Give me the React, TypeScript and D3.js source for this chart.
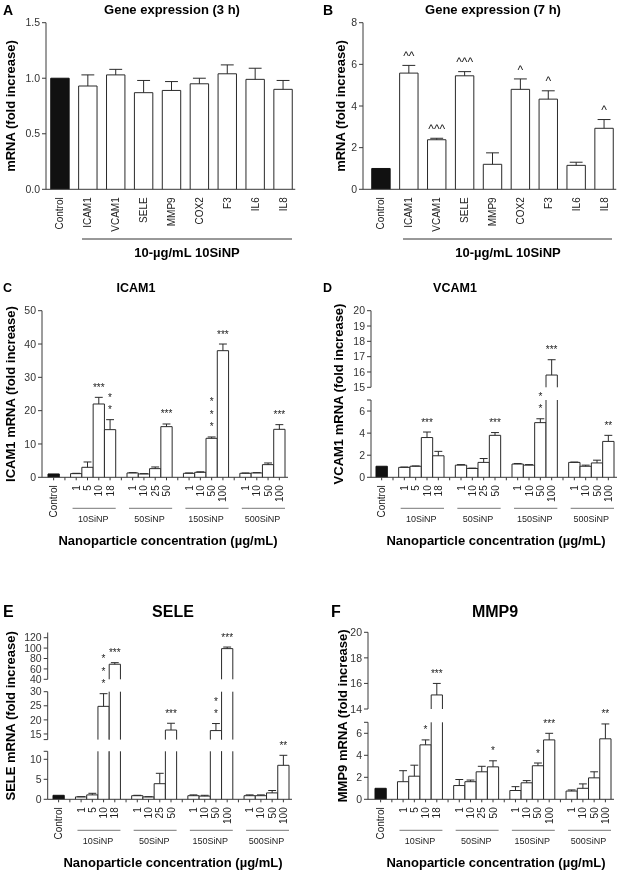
import * as React from "react"
import * as d3 from "d3"

const FONT = "'Liberation Sans', Arial, sans-serif"

// panels A and B
const GENES = ["Control", "ICAM1", "VCAM1", "SELE", "MMP9", "COX2", "F3", "IL6", "IL8"]
const H3_MEAN = [1.0, 0.93, 1.03, 0.87, 0.89, 0.95, 1.04, 0.99, 0.9]
const H3_SEM = [0, 0.1, 0.05, 0.11, 0.08, 0.05, 0.08, 0.1, 0.08]
const H7_MEAN = [1.0, 5.58, 2.38, 5.45, 1.2, 4.8, 4.33, 1.15, 2.93]
const H7_SEM = [0, 0.37, 0.07, 0.2, 0.55, 0.5, 0.4, 0.15, 0.42]
// blank lines lift a mark further above its error bar
const H7_MARKS = ["", "\n\n^^", "^^^", "\n\n^^^", "", "^", "^", "", "^"]

// panels C-F
const PARTICLES = ["10SiNP", "50SiNP", "150SiNP", "500SiNP"]
const DOSES = [
  ["1", "5", "10", "18"],
  ["1", "10", "25", "50"],
  ["1", "10", "50", "100"],
  ["1", "10", "50", "100"],
]

// order: Control, then 4 doses for each particle
const ICAM1_MEAN = [1.0, 1.1, 3.0, 22, 14.3, 1.3, 1.0, 2.6, 15.2, 1.2, 1.5, 11.7, 38, 1.2, 1.3, 3.8, 14.4]
const ICAM1_SEM = [0, 0.1, 1.6, 2, 3, 0.1, 0.1, 0.5, 0.8, 0.1, 0.15, 0.4, 2, 0.1, 0.1, 0.5, 1.4]
const ICAM1_MARKS = ["", "", "", "***", "*\n*", "", "", "", "***", "", "", "*\n*\n*", "***", "", "", "", "***"]

const VCAM1_MEAN = [1.0, 0.9, 1.0, 3.6, 1.95, 1.1, 0.8, 1.35, 3.8, 1.2, 1.1, 4.95, 15.8, 1.35, 1.0, 1.3, 3.25]
const VCAM1_SEM = [0, 0.03, 0.03, 0.5, 0.4, 0.05, 0.03, 0.35, 0.25, 0.05, 0.05, 0.35, 1.0, 0.03, 0.1, 0.25, 0.55]
const VCAM1_MARKS = ["", "", "", "***", "", "", "", "", "***", "", "", "*\n*", "***", "", "", "", "**"]

const SELE_MEAN = [1.0, 0.6, 1.1, 24.8, 69, 0.9, 0.6, 3.9, 16.4, 0.9, 0.8, 16.2, 99, 0.9, 0.9, 1.6, 8.5]
const SELE_SEM = [0, 0.05, 0.4, 4.5, 3, 0.1, 0.05, 2.6, 2.4, 0.2, 0.2, 2.5, 3, 0.2, 0.2, 0.6, 2.5]
const SELE_MARKS = ["", "", "", "*\n*\n*", "***", "", "", "", "***", "", "", "*\n*", "***", "", "", "", "**"]

const MMP9_MEAN = [1.0, 1.6, 2.1, 4.95, 15.1, 1.25, 1.6, 2.5, 2.95, 0.8, 1.5, 3.05, 5.4, 0.75, 1.0, 1.95, 5.5]
const MMP9_SEM = [0, 1.0, 1.0, 0.45, 0.9, 0.55, 0.15, 0.5, 0.55, 0.35, 0.2, 0.25, 0.6, 0.1, 0.4, 0.55, 1.35]
const MMP9_MARKS = ["", "", "", "*", "***", "", "", "", "*", "", "", "*", "***", "", "", "", "**"]

type Seg = { d: [number, number]; r: [number, number]; ticks: number[] }
type Bar = { x0: number; w: number; v: number; e: number; black: boolean; mark: string; label: string }

const AXIS = "#3a3a3a"

function YAxis({ x, segs, fmt }: { x: number; segs: Seg[]; fmt: (n: number) => string }) {
  return (
    <g>
      {segs.map((s, i) => {
        const y = d3.scaleLinear().domain(s.d).range(s.r)
        const caps: number[] = []
        if (i > 0 && !s.ticks.includes(s.d[0])) caps.push(s.d[0])
        if (i < segs.length - 1 && !s.ticks.includes(s.d[1])) caps.push(s.d[1])
        return (
          <g key={i}>
            <line x1={x} x2={x} y1={y(s.d[0])} y2={y(s.d[1])} stroke={AXIS} />
            {s.ticks.map(t => (
              <g key={t}>
                <line x1={x - 4} x2={x} y1={y(t)} y2={y(t)} stroke={AXIS} />
                <text x={x - 6} y={y(t)} dy="0.35em" textAnchor="end" fontSize={10.5} fill="#333">
                  {fmt(t)}
                </text>
              </g>
            ))}
            {caps.map(c => (
              <line key={"c" + c} x1={x - 4} x2={x} y1={y(c)} y2={y(c)} stroke={AXIS} />
            ))}
          </g>
        )
      })}
    </g>
  )
}

function Bars({ bars, segs, markSize }: { bars: Bar[]; segs: Seg[]; markSize: number }) {
  const scales = segs.map(s => ({ s, y: d3.scaleLinear().domain(s.d).range(s.r) }))
  const yOf = (v: number) => {
    const hit = scales.find(q => v <= q.s.d[1]) || scales[scales.length - 1]
    return hit.y(v)
  }
  return (
    <g>
      {bars.map((b, bi) => {
        const x1 = b.x0 + b.w
        const cx = b.x0 + b.w / 2
        const parts = scales.map((q, i) => {
          const lo = i === 0 ? 0 : q.s.d[0]
          if (b.v <= lo) return null
          const hi = Math.min(b.v, q.s.d[1])
          const yb = q.y(lo)
          const yt = q.y(hi)
          const closed = b.v <= q.s.d[1]
          const path = `M${b.x0},${yb}V${yt}` + (closed ? `H${x1}` : `M${x1},${yt}`) + `V${yb}`
          return (
            <g key={i}>
              <rect x={b.x0} y={yt} width={b.w} height={yb - yt} fill={b.black ? "#111" : "#fff"} />
              <path d={path} fill="none" stroke={b.black ? "#111" : "#2a2a2a"} strokeWidth={1} />
            </g>
          )
        })
        const yTop = yOf(b.v + b.e)
        const capW = b.w * 0.7
        const lines = b.mark ? b.mark.split("\n").reverse() : []
        return (
          <g key={bi}>
            {parts}
            {b.e > 0 && (
              <g stroke="#2a2a2a">
                <line x1={cx} x2={cx} y1={yOf(b.v)} y2={yTop} />
                <line x1={cx - capW / 2} x2={cx + capW / 2} y1={yTop} y2={yTop} />
              </g>
            )}
            {lines.map((t, i) => (
              <text key={i} x={cx} y={yTop - 12 - 12.5 * i + markSize * 0.55} textAnchor="middle" fontSize={markSize} fill="#222">
                {t}
              </text>
            ))}
          </g>
        )
      })}
    </g>
  )
}

function RotLabels({ bars, y, size }: { bars: Bar[]; y: number; size: number }) {
  return (
    <g>
      {bars.map((b, i) => (
        <text
          key={i}
          transform={`translate(${b.x0 + b.w / 2},${y}) rotate(-90)`}
          textAnchor="end"
          dy="0.35em"
          fontSize={size}
          fill="#222"
        >
          {b.label}
        </text>
      ))}
    </g>
  )
}

function YTitle({ x, y, text }: { x: number; y: number; text: string }) {
  return (
    <text transform={`translate(${x},${y}) rotate(-90)`} textAnchor="middle" dy="0.35em" fontSize={13} fontWeight="bold">
      {text}
    </text>
  )
}

type GeneLayout = {
  letter: string; lx: number; title: string; tx: number; ylx: number
  axisX: number; range: [number, number]; seg: Seg; fmt: (n: number) => string
  mean: number[]; sem: number[]; marks: string[]; subX: [number, number]; subCx: number
}

function GenePanel(p: GeneLayout) {
  const x = d3.scaleBand().domain(GENES).range(p.range).paddingInner(0.34).paddingOuter(0.17)
  const bars: Bar[] = GENES.map((g, i) => ({
    x0: x(g) as number, w: x.bandwidth(), v: p.mean[i], e: p.sem[i], black: i === 0, mark: p.marks[i], label: g,
  }))
  const segs = [p.seg]
  const axisY = p.seg.r[0]
  const last = bars[bars.length - 1]
  return (
    <g>
      <text x={p.lx} y={15} fontSize={14} fontWeight="bold">{p.letter}</text>
      <text x={p.tx} y={14} fontSize={13} fontWeight="bold" textAnchor="middle">{p.title}</text>
      <YTitle x={p.ylx} y={(p.seg.r[0] + p.seg.r[1]) / 2} text="mRNA (fold increase)" />
      <Bars bars={bars} segs={segs} markSize={12} />
      <line x1={p.axisX} x2={last.x0 + last.w + 3} y1={axisY} y2={axisY} stroke={AXIS} />
      <YAxis x={p.axisX} segs={segs} fmt={p.fmt} />
      <RotLabels bars={bars} y={axisY + 8} size={10} />
      <line x1={p.subX[0]} x2={p.subX[1]} y1={239} y2={239} stroke="#333" />
      <text x={p.subCx} y={257} textAnchor="middle" fontSize={13} fontWeight="bold">10-µg/mL 10SiNP</text>
    </g>
  )
}

type DoseLayout = {
  letter: string; lx: number; title: string; tx: number; ty: number; tsize: number
  ylabel: string; ylx: number; axisX: number; range: [number, number]; segs: Seg[]
  mean: number[]; sem: number[]; marks: string[]; xtx: number
}

function DosePanel(p: DoseLayout) {
  // one band per bar plus a spacer before each particle group
  const keys: string[] = ["Control"]
  PARTICLES.forEach((pt, gi) => {
    keys.push("gap-" + pt)
    DOSES[gi].forEach(d => keys.push(pt + "-" + d))
  })
  const x = d3.scaleBand().domain(keys).range(p.range).paddingInner(0).paddingOuter(0)
  const w = x.bandwidth()
  const barKeys = keys.filter(k => !k.startsWith("gap"))
  const bars: Bar[] = barKeys.map((k, i) => ({
    x0: x(k) as number, w, v: p.mean[i], e: p.sem[i], black: i === 0, mark: p.marks[i],
    label: i === 0 ? "Control" : k.split("-")[1],
  }))
  const axisY = p.segs[0].r[0]
  const tickXs = keys.map(k => (x(k) as number) + w / 2)
  return (
    <g>
      <text x={p.lx} y={p.ty} fontSize={p.tsize} fontWeight="bold">{p.letter}</text>
      <text x={p.tx} y={p.ty} fontSize={p.tsize} fontWeight="bold" textAnchor="middle">{p.title}</text>
      <YTitle x={p.ylx} y={(p.segs[0].r[0] + p.segs[p.segs.length - 1].r[1]) / 2} text={p.ylabel} />
      <Bars bars={bars} segs={p.segs} markSize={10} />
      <line x1={p.axisX} x2={p.range[1] + 3} y1={axisY} y2={axisY} stroke={AXIS} />
      {tickXs.map((tx, i) => (
        <line key={i} x1={tx} x2={tx} y1={axisY} y2={axisY + 3} stroke={AXIS} />
      ))}
      <YAxis x={p.axisX} segs={p.segs} fmt={d3.format("d")} />
      <RotLabels bars={bars} y={axisY + 8} size={10} />
      {PARTICLES.map((pt, gi) => {
        const a = x(pt + "-" + DOSES[gi][0]) as number
        const b = (x(pt + "-" + DOSES[gi][3]) as number) + w
        return (
          <g key={pt}>
            <line x1={a + 2} x2={b} y1={axisY + 31} y2={axisY + 31} stroke="#777" />
            <text x={(a + b) / 2} y={axisY + 45} textAnchor="middle" fontSize={9} fill="#222">{pt}</text>
          </g>
        )
      })}
      <text x={p.xtx} y={axisY + 68} textAnchor="middle" fontSize={13} fontWeight="bold">
        Nanoparticle concentration (µg/mL)
      </text>
    </g>
  )
}

export default function App() {
  return (
    <svg
      width={626}
      height={873}
      style={{ position: "absolute", left: 0, top: 0, background: "#fff", willChange: "transform" }}
      fontFamily={FONT}
    >
      <rect width={626} height={873} fill="#fff" />
      <GenePanel
        letter="A" lx={3} title="Gene expression (3 h)" tx={172} ylx={10}
        axisX={46} range={[46, 297]} seg={{ d: [0, 1.5], r: [189.3, 22.7], ticks: [0, 0.5, 1, 1.5] }}
        fmt={d3.format(".1f")} mean={H3_MEAN} sem={H3_SEM} marks={GENES.map(() => "")}
        subX={[82, 292]} subCx={187}
      />
      <GenePanel
        letter="B" lx={323} title="Gene expression (7 h)" tx={493} ylx={340}
        axisX={363} range={[367, 618]} seg={{ d: [0, 8], r: [189.3, 22.7], ticks: [0, 2, 4, 6, 8] }}
        fmt={d3.format("d")} mean={H7_MEAN} sem={H7_SEM} marks={H7_MARKS}
        subX={[403, 612]} subCx={508}
      />
      <DosePanel
        letter="C" lx={3} title="ICAM1" tx={136} ty={292} tsize={12.5}
        ylabel="ICAM1 mRNA (fold increase)" ylx={10} axisX={42} range={[48, 285]}
        segs={[{ d: [0, 50], r: [477.3, 310.7], ticks: [0, 10, 20, 30, 40, 50] }]}
        mean={ICAM1_MEAN} sem={ICAM1_SEM} marks={ICAM1_MARKS} xtx={168}
      />
      <DosePanel
        letter="D" lx={323} title="VCAM1" tx={455} ty={292} tsize={12.5}
        ylabel="VCAM1 mRNA (fold increase)" ylx={338} axisX={371} range={[376, 614]}
        segs={[
          { d: [0, 7], r: [477.3, 400], ticks: [0, 2, 4, 6] },
          { d: [15, 20], r: [387.3, 310.7], ticks: [15, 16, 17, 18, 19, 20] },
        ]}
        mean={VCAM1_MEAN} sem={VCAM1_SEM} marks={VCAM1_MARKS} xtx={496}
      />
      <DosePanel
        letter="E" lx={3} title="SELE" tx={173} ty={617} tsize={16}
        ylabel="SELE mRNA (fold increase)" ylx={10} axisX={47.7} range={[53, 289]}
        segs={[
          { d: [0, 12], r: [799.3, 751.3], ticks: [0, 5, 10] },
          { d: [13, 30], r: [739.6, 691.7], ticks: [15, 20, 25, 30] },
          { d: [40, 130], r: [679.3, 632.5], ticks: [40, 60, 80, 100, 120] },
        ]}
        mean={SELE_MEAN} sem={SELE_SEM} marks={SELE_MARKS} xtx={173}
      />
      <DosePanel
        letter="F" lx={331} title="MMP9" tx={495} ty={617} tsize={16}
        ylabel="MMP9 mRNA (fold increase)" ylx={342} axisX={368} range={[375, 611]}
        segs={[
          { d: [0, 7], r: [799.3, 722.3], ticks: [0, 2, 4, 6] },
          { d: [14, 20], r: [709, 632.3], ticks: [14, 16, 18, 20] },
        ]}
        mean={MMP9_MEAN} sem={MMP9_SEM} marks={MMP9_MARKS} xtx={496}
      />
    </svg>
  )
}
